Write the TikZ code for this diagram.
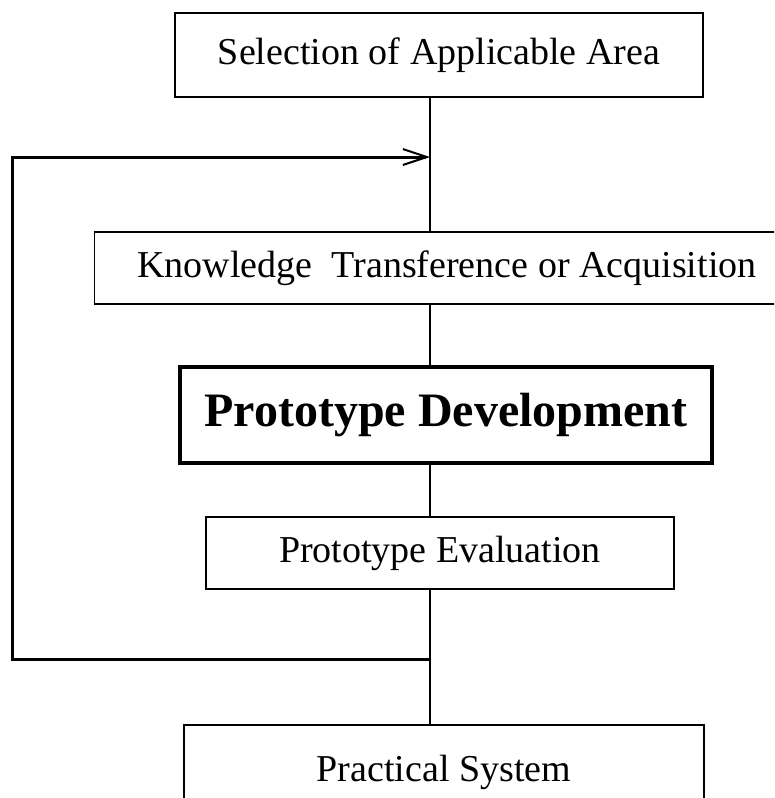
\documentclass[tikz,border=0pt]{standalone}
\usepackage{fontspec}
\setmainfont{Liberation Serif}
\usetikzlibrary{arrows.meta}
\begin{document}
\begin{tikzpicture}[x=1pt,y=-1pt,
  box/.style={draw, line width=1.8pt, inner sep=0pt, align=center,
    font=\fontsize{38}{40}\selectfont},
  boldbox/.style={box, line width=3.5pt, font=\fontsize{48}{50}\selectfont\bfseries},
  conn/.style={line width=2.4pt},
  loopline/.style={line width=3pt}]
\useasboundingbox (0,0) rectangle (774,798);
\clip (0,0) rectangle (774,798);
\node[box, minimum width=528, minimum height=84] (b1) at (439,55) {Selection of Applicable Area};
\node[box, minimum width=705, minimum height=72] (b2) at (447,268) {Knowledge\ \ Transference or Acquisition};
\node[boldbox, minimum width=532, minimum height=96] (b3) at (446,415) {Prototype Development};
\node[box, minimum width=468, minimum height=72] (b4) at (440,553) {Prototype Evaluation};
\node[box, minimum width=520, minimum height=94] (b5) at (444,772) {Practical System};
\coordinate (m) at (430,0);
\coordinate (lt) at (12,157);
\coordinate (lb) at (12,659);
\draw[conn] (b1.south -| m) -- (b2.north -| m);
\draw[conn] (b2.south -| m) -- (b3.north -| m);
\draw[conn] (b3.south -| m) -- (b4.north -| m);
\draw[conn] (b4.south -| m) -- (b5.north -| m);
\draw[loopline, -{Straight Barb[length=24pt,width=16pt,line width=2pt]}] (lb -| m) -- (lb) -- (lt) -- (lt -| m);
\end{tikzpicture}
\end{document}
